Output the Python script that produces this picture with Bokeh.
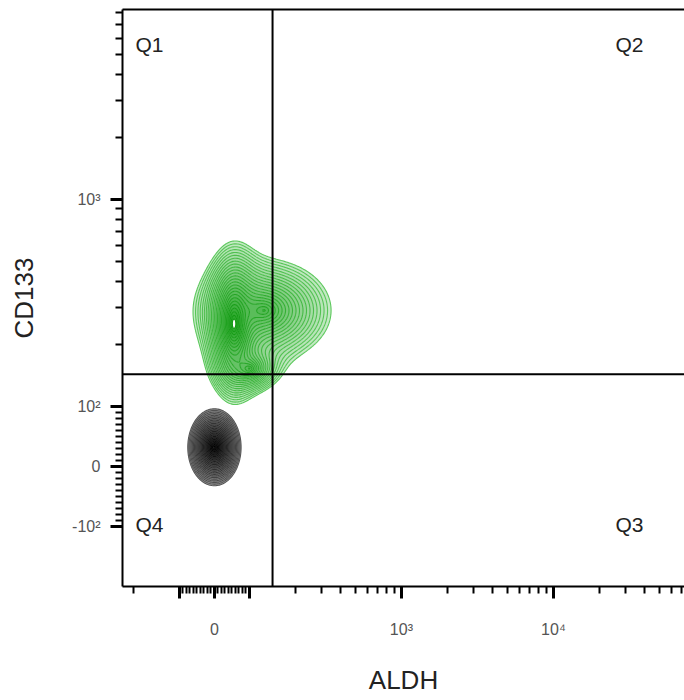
import numpy as np
from bokeh.plotting import figure
from bokeh.models import FixedTicker, Range1d, Span, Label, LinearAxis
from bokeh.embed import file_html
from bokeh.resources import INLINE

# ---------------- data ----------------
# display scale: linear inside +-LIN_LIMIT, logarithmic outside;
# LIN_WIDTH = width (in decades) of the 0..LIN_LIMIT stretch
LIN_LIMIT = 100.0
X_LIN_WIDTH = 0.23
Y_LIN_WIDTH = 0.29

# visible data window
x_view = [-237, 72800]
y_view = [-195, 8280]

# axis ticks
x_major = [-100, 0, 100, 1000, 10000]
x_major_labels = ["", "0", "", "10³", "10⁴"]
x_minor = ([-200] + list(range(-90, 0, 10)) + list(range(10, 100, 10))
           + list(range(200, 1000, 100)) + list(range(2000, 10000, 1000))
           + list(range(20000, 80000, 10000)))
y_major = [-100, 0, 100, 1000]
y_major_labels = ["-10²", "0", "10²", "10³"]
y_minor = ([-200] + list(range(-90, 0, 10)) + list(range(10, 100, 10))
           + list(range(200, 1000, 100)) + list(range(2000, 9000, 1000)))

# quadrant gates (ALDH, CD133)
gate_aldh = 142
gate_cd133 = 143
quadrants = ["Q1", "Q2", "Q3", "Q4"]

# populations: centre (data units), spread (decades), relative weight
green_x = [56, 125, 100]
green_y = [250, 291, 152]
green_sx = [0.05, 0.17, 0.075]
green_sy = [0.103, 0.095, 0.042]
green_w = [1.0, 0.4, 0.3]

black_x = [0]
black_y = [32]
black_sx = [0.05]
black_sy = [0.053]
black_w = [1.0]


# ---------------- scale helpers ----------------
def make_scale(lin_width):
    def f(val):
        val = np.asarray(val, dtype=float)
        a = np.abs(val)
        lin = a / LIN_LIMIT * lin_width
        lg = lin_width + np.log10(np.maximum(a, LIN_LIMIT) / LIN_LIMIT)
        return np.sign(val) * np.where(a < LIN_LIMIT, lin, lg)
    return f


fx = make_scale(X_LIN_WIDTH)
fy = make_scale(Y_LIN_WIDTH)

x0, x1 = [float(t) for t in fx(x_view)]
y0, y1 = [float(t) for t in fy(y_view)]

gx = np.linspace(x0, x1, 560)
gy = np.linspace(y0, y1, 440)
GX, GY = np.meshgrid(gx, gy)


def density(cxs, cys, sxs, sys, ws):
    Z = np.zeros_like(GX)
    for cx, cy, sx, sy, w in zip(cxs, cys, sxs, sys, ws):
        r = np.sqrt(((GX - fx(cx)) / sx) ** 2 + ((GY - fy(cy)) / sy) ** 2)
        Z += w * np.exp(-r)
    return Z


def ramp(c0, c1, n):
    a = np.array([int(c0[i:i + 2], 16) for i in (1, 3, 5)], float)
    b = np.array([int(c1[i:i + 2], 16) for i in (1, 3, 5)], float)
    out = []
    for t in np.linspace(0, 1, n):
        c = (a + (b - a) * t).round().astype(int)
        out.append("#%02x%02x%02x" % tuple(c))
    return out


# ---------------- figure ----------------
p = figure(width=684, height=698, x_range=Range1d(x0, x1), y_range=Range1d(y0, y1),
           output_backend="svg", toolbar_location=None,
           min_border_left=122, min_border_right=0, min_border_top=9, min_border_bottom=112)
p.outline_line_color = None
p.grid.visible = False
p.background_fill_color = "white"

zg = density(green_x, green_y, green_sx, green_sy, green_w)
zb = density(black_x, black_y, black_sx, black_sy, black_w)

lev_g = list(np.geomspace(0.03, 0.9, 26))
lev_b = list(np.geomspace(0.03, 0.9, 24))

p.contour(gx, gy, zg, lev_g,
          fill_color=ramp("#c4eac4", "#2eaa2e", len(lev_g) - 1),
          line_color=ramp("#5cc85c", "#109810", len(lev_g)), line_width=1.1)
p.contour(gx, gy, zb, lev_b,
          fill_color=ramp("#9a9a9a", "#1a1a1a", len(lev_b) - 1),
          line_color=ramp("#555555", "#000000", len(lev_b)), line_width=1.1)

# gates
p.add_layout(Span(location=float(fx(gate_aldh)), dimension="height",
                  line_color="black", line_width=2))
p.add_layout(Span(location=float(fy(gate_cd133)), dimension="width",
                  line_color="black", line_width=2))

# quadrant labels
qx_left = x0 + 13 / 152
qx_right = x1 - 69 / 152
qy_top = y1 - 35 / 207
qy_bot = y0 + 62 / 207
for name, qx, qy in zip(quadrants, [qx_left, qx_right, qx_right, qx_left],
                        [qy_top, qy_top, qy_bot, qy_bot]):
    p.add_layout(Label(x=qx, y=qy, text=name, text_font="Liberation Sans",
                       text_font_size="21px", text_color="#222222",
                       text_baseline="middle", text_align="left"))

# axes
xt = [float(t) for t in fx(x_major)]
yt = [float(t) for t in fy(y_major)]
p.xaxis.ticker = FixedTicker(ticks=xt, minor_ticks=[float(t) for t in fx(x_minor)])
p.yaxis.ticker = FixedTicker(ticks=yt, minor_ticks=[float(t) for t in fy(y_minor)])
p.xaxis.major_label_overrides = {t: s for t, s in zip(xt, x_major_labels)}
p.yaxis.major_label_overrides = {t: s for t, s in zip(yt, y_major_labels)}

for ax in (p.xaxis[0], p.yaxis[0]):
    ax.axis_line_width = 2
    ax.axis_line_color = "black"
    ax.major_tick_in = 0
    ax.minor_tick_in = 0
    ax.major_tick_out = 12
    ax.minor_tick_out = 7
    ax.major_tick_line_width = 3
    ax.minor_tick_line_width = 2
    ax.major_tick_line_color = "black"
    ax.minor_tick_line_color = "black"
    ax.major_label_text_font = "Liberation Sans"
    ax.major_label_text_font_size = "16px"
    ax.major_label_text_color = "#555555"
    ax.axis_label_text_font = "Liberation Sans"
    ax.axis_label_text_font_size = "26px"
    ax.axis_label_text_font_style = "normal"
    ax.axis_label_text_color = "#222222"

p.xaxis.axis_label = "ALDH"
p.yaxis.axis_label = "CD133"
p.xaxis.major_label_standoff = 22
p.yaxis.major_label_standoff = 10
p.xaxis.axis_label_standoff = 24
p.yaxis.axis_label_standoff = 30
p.yaxis.major_label_orientation = "horizontal"

top = LinearAxis(ticker=FixedTicker(ticks=[]), axis_line_width=2, axis_line_color="black",
                 major_tick_out=0, minor_tick_out=0, major_label_text_font_size="0px")
p.add_layout(top, "above")

open("out.html", "w").write(file_html(p, INLINE))
